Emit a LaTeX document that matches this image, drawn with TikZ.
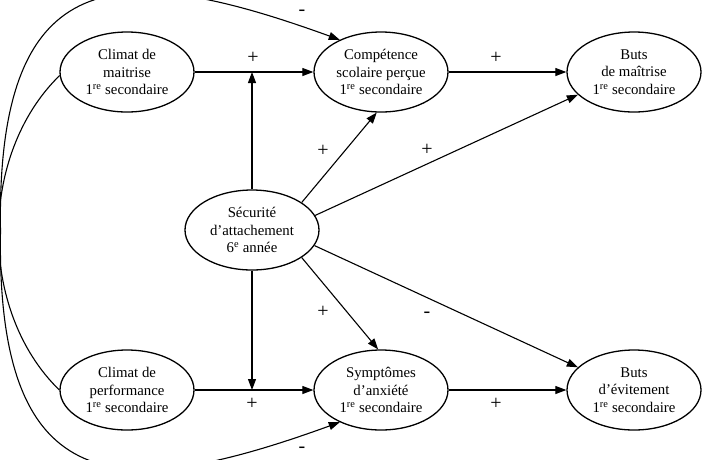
\documentclass[tikz,border=0pt]{standalone}
\usepackage{fontspec}
\setmainfont{Liberation Serif}
\usetikzlibrary{arrows.meta,shapes.geometric}
\begin{document}
\begin{tikzpicture}[x=1pt,y=-1pt,
  var/.style={draw,ellipse,line width=1.3pt,minimum width=134pt,minimum height=80pt,inner sep=0pt,align=center,font=\fontsize{14.8}{17.5}\selectfont},
  arr/.style={line width=1.1pt,-{Triangle[length=11pt,width=8pt]}},
  link/.style={line width=1.1pt},
  sign/.style={font=\fontsize{20}{22}\selectfont,inner sep=0pt,text height=11.6pt,text depth=0pt}]
\useasboundingbox (0,0) rectangle (712,459);
\clip (0,0) rectangle (712,459);
\fill[white] (0,0) rectangle (712,459);
% nodes
\node[var] (clim1) at (127,72) {Climat de\\maitrise\\1\textsuperscript{re} secondaire};
\node[var] (comp) at (381,72) {Compétence\\scolaire perçue\\1\textsuperscript{re} secondaire};
\node[var] (butsm) at (634,72) {Buts\\de maîtrise\\1\textsuperscript{re} secondaire};
\node[var] (sec) at (252,230) {Sécurité\\d’attachement\\6\textsuperscript{e} année};
\node[var] (clim2) at (127,390) {Climat de\\performance\\1\textsuperscript{re} secondaire};
\node[var] (symp) at (381,390) {Symptômes\\d’anxiété\\1\textsuperscript{re} secondaire};
\node[var] (butse) at (634,390) {Buts\\d’évitement\\1\textsuperscript{re} secondaire};
\coordinate (m1) at (252,72);
\coordinate (m2) at (252,390);
% horizontal arrows
\draw[arr] (clim1.east) -- (comp.west);
\draw[arr] (comp.east) -- (butsm.west);
\draw[arr] (clim2.east) -- (symp.west);
\draw[arr] (symp.east) -- (butse.west);
% moderation arrows
\draw[arr] (sec.north) -- (m1);
\draw[arr] (sec.south) -- (m2);
% from attachment
\draw[arr] (sec.29) -- (comp.264);
\draw[arr] (sec.13) -- (butsm.202);
\draw[arr] (sec.331) -- (symp.94);
\draw[arr] (sec.346) -- (butse.158);
% correlation between climates
\draw[link] (clim1.183) .. controls (-22,155) and (-22,311) .. (clim2.west);
% outer curve
\draw[line width=1.1pt,{Triangle[length=11pt,width=8pt]}-{Triangle[length=11pt,width=8pt]}]
  (comp.142) .. controls (120,-40) and (-4,-40) .. (0.5,231)
  .. controls (-4,502) and (120,502) .. (symp.218);
% signs
\node[sign] (s1) at (253,58) {+};
\node[sign] (s2) at (496,58) {+};
\node[sign] (s3) at (323,151) {+};
\node[sign] (s4) at (427,150) {+};
\node[sign] (s5) at (323,312) {+};
\node[sign] (s6) at (427,312) {-};
\node[sign] (s7) at (252,404) {+};
\node[sign] (s8) at (496,404) {+};
\node[sign] (s9) at (302,10) {-};
\node[sign] (s10) at (302,447) {-};
\end{tikzpicture}
\end{document}
